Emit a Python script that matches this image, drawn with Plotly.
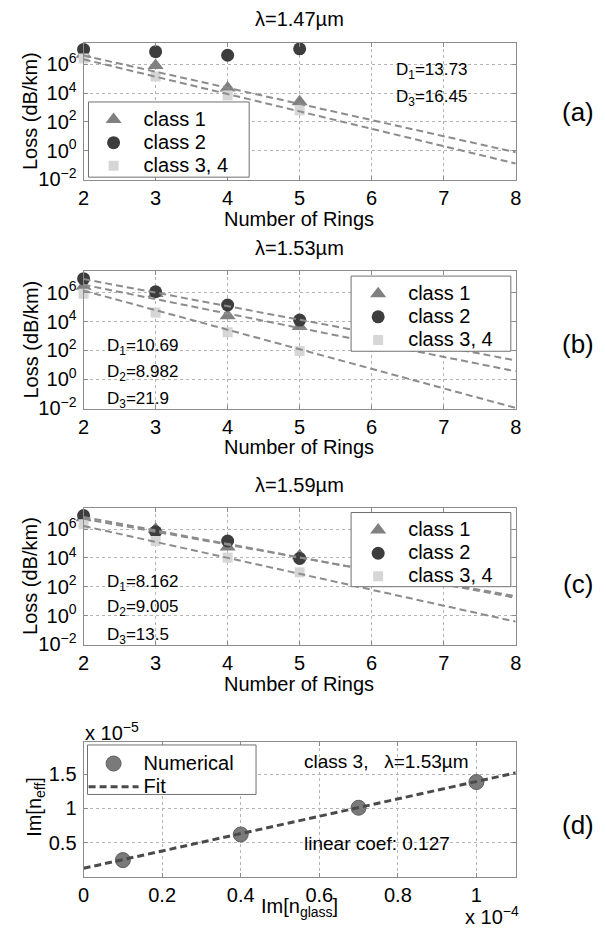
import plotly.graph_objects as go

# page body has an 8px margin: the figure is drawn from (8, 8) in the window
OFF = 8
WIN_W, WIN_H = 606, 937
W, H = WIN_W - OFF, WIN_H - OFF

# ---------------- data ----------------
rings = [2, 3, 4, 5]
fit_rings = [2, 8]

# panel (a)  lambda = 1.47 um
a_class1 = [5.0e6, 8.0e5, 2.2e4, 2.5e3]
a_class2 = [1.07e7, 7.4e6, 4.2e6, 1.17e7]
a_class3 = [2.5e6, 1.4e5, 6.8e3, 6.3e2]
a_fit1 = [4.0e6, 0.76]
a_fit3 = [2.2e6, 0.126]

# panel (b)  lambda = 1.53 um
b_class1 = [2.8e6, 8.9e5, 2.5e4, 4.6e3]
b_class2 = [9.5e6, 1.17e6, 1.4e5, 1.26e4]
b_class3 = [8.5e5, 4.2e4, 1.8e3, 89]
b_fit1 = [3.6e6, 3.5]
b_fit2 = [8.9e6, 20]
b_fit3 = [1.4e6, 0.01]

# panel (c)  lambda = 1.59 um
c_class1 = [6.2e6, 1.0e6, 5.8e4, 1.4e4]
c_class2 = [8.9e6, 6.6e5, 1.5e5, 9.3e3]
c_class3 = [2.2e6, 1.5e5, 1.05e4, 1.0e3]
c_fit1 = [5.2e6, 22]
c_fit2 = [7.1e6, 17]
c_fit3 = [1.66e6, 0.38]

# panel (d)  (x in units of 1e-4, y in units of 1e-5)
im_glass = [0.1, 0.4, 0.7, 1.0]
im_neff = [0.245, 0.62, 1.01, 1.385]
fit_glass = [0.0, 1.1]
fit_neff = [0.125, 1.52]

class_names = ["class 1", "class 2", "class 3, 4"]
ring_ticks = [2, 3, 4, 5, 6, 7, 8]
loss_tickvals = [1e-2, 1e0, 1e2, 1e4, 1e6]
loss_ticktext = ["10<sup>\u22122</sup>", "10<sup>0</sup>", "10<sup>2</sup>",
                 "10<sup>4</sup>", "10<sup>6</sup>"]
glass_ticks = [0, 0.2, 0.4, 0.6, 0.8, 1.0]
glass_ticktext = ["0", "0.2", "0.4", "0.6", "0.8", "1"]
neff_ticks = [0.5, 1.0, 1.5]
neff_ticktext = ["0.5", "1", "1.5"]

# ---------------- style ----------------
FONT = "Liberation Sans, Arial, Helvetica, sans-serif"
C1, C2, C3 = "#808080", "#3d3d3d", "#d6d6d6"
FITC = "#8c8c8c"
BOXC = "#8c8c8c"
GRIDC = "#b4b4b4"
LBL = 20


def px(x):
    return (x - OFF) / W


def py(y):
    return 1 - (y - OFF) / H


def big(s):
    return f'<span style="font-size:20px">{s}</span>'


XL, XR = 79, 520
panels = {  # top, bottom pixel rows of each axes box (window pixels)
    "a": (43, 182),
    "b": (274, 413),
    "c": (513, 652),
    "d": (750, 886),
}

fig = go.Figure()


def add_loss_panel(idx, c1, c2, c3, fits, legend_name):
    xa = "x" if idx == 1 else f"x{idx}"
    ya = "y" if idx == 1 else f"y{idx}"
    fig.add_trace(go.Scatter(x=rings, y=c1, mode="markers", name=big(class_names[0]),
                             marker=dict(symbol="triangle-up", size=14, color=C1),
                             xaxis=xa, yaxis=ya, legend=legend_name, cliponaxis=False))
    fig.add_trace(go.Scatter(x=rings, y=c2, mode="markers", name=big(class_names[1]),
                             marker=dict(symbol="circle", size=13, color=C2),
                             xaxis=xa, yaxis=ya, legend=legend_name, cliponaxis=False))
    fig.add_trace(go.Scatter(x=rings, y=c3, mode="markers", name=big(class_names[2]),
                             marker=dict(symbol="square", size=10, color=C3),
                             xaxis=xa, yaxis=ya, legend=legend_name, cliponaxis=False))
    for f in fits:
        fig.add_trace(go.Scatter(x=fit_rings, y=f, mode="lines", showlegend=False,
                                 line=dict(color=FITC, width=2, dash="7px,4px"),
                                 xaxis=xa, yaxis=ya, hoverinfo="skip"))


add_loss_panel(1, a_class1, a_class2, a_class3, [a_fit1, a_fit3], "legend")
add_loss_panel(2, b_class1, b_class2, b_class3, [b_fit2, b_fit1, b_fit3], "legend2")
add_loss_panel(3, c_class1, c_class2, c_class3, [c_fit1, c_fit2, c_fit3], "legend3")

fig.add_trace(go.Scatter(x=im_glass, y=im_neff, mode="markers", name=big("Numerical"),
                         marker=dict(symbol="circle", size=15, color="#7a7a7a",
                                     line=dict(color="#5e5e5e", width=1)),
                         xaxis="x4", yaxis="y4", legend="legend4", cliponaxis=False))
fig.add_trace(go.Scatter(x=fit_glass, y=fit_neff, mode="lines", name=big("Fit"),
                         line=dict(color="#4a4a4a", width=3, dash="7px,4px"),
                         xaxis="x4", yaxis="y4", legend="legend4"))

common = dict(showline=True, mirror="ticks", linecolor=BOXC, linewidth=1,
              ticks="inside", ticklen=4, tickcolor=BOXC,
              showgrid=True, gridcolor=GRIDC, griddash="dot", gridwidth=1,
              zeroline=False, tickfont=dict(family=FONT, size=LBL, color="black"))

layout_axes = {}
for i, key in enumerate(["a", "b", "c", "d"], start=1):
    top, bot = panels[key]
    xname = "xaxis" if i == 1 else f"xaxis{i}"
    yname = "yaxis" if i == 1 else f"yaxis{i}"
    xanchor = "y" if i == 1 else f"y{i}"
    yanchor = "x" if i == 1 else f"x{i}"
    if key != "d":
        layout_axes[xname] = dict(common, domain=[px(XL), px(XR)], anchor=xanchor,
                                  range=[2, 8], tickvals=ring_ticks, ticklabelstandoff=0)
        layout_axes[yname] = dict(common, domain=[py(bot), py(top)], anchor=yanchor,
                                  type="log", range=[-2.05, 7.5],
                                  tickvals=loss_tickvals, ticktext=loss_ticktext,
                                  ticklabelstandoff=2)
    else:
        layout_axes[xname] = dict(common, domain=[px(XL), px(XR)], anchor=xanchor,
                                  range=[0, 1.1], tickvals=glass_ticks,
                                  ticktext=glass_ticktext, ticklabelstandoff=0)
        layout_axes[yname] = dict(common, domain=[py(bot), py(top)], anchor=yanchor,
                                  range=[0.005, 1.97], tickvals=neff_ticks,
                                  ticktext=neff_ticktext, ticklabelstandoff=2)

fig.update_layout(width=W, height=H, margin=dict(l=0, r=0, t=0, b=0),
                  paper_bgcolor="white", plot_bgcolor="white",
                  font=dict(family=FONT, size=LBL, color="black"),
                  showlegend=True, **layout_axes)

# legend boxes (opaque, MATLAB style)
legend_boxes = [(84, 248, 103, 179), (352, 515, 279, 355),
                (352, 515, 518, 593), (83, 255, 753, 803)]
shapes = []
for x0, x1, y0, y1 in legend_boxes:
    shapes.append(dict(type="rect", xref="paper", yref="paper", layer="above",
                       x0=px(x0), x1=px(x1), y0=py(y1), y1=py(y0),
                       fillcolor="white", line=dict(color="#707070", width=1)))
fig.update_layout(shapes=shapes)

leg_common = dict(bgcolor="rgba(0,0,0,0)", borderwidth=0, xanchor="left", yanchor="top",
                  font=dict(family=FONT, size=15.5, color="black"), itemwidth=50,
                  tracegroupgap=0)
fig.update_layout(
    legend=dict(leg_common, x=px(79), y=py(104)),
    legend2=dict(leg_common, x=px(349), y=py(280)),
    legend3=dict(leg_common, x=px(349), y=py(519)),
    legend4=dict(leg_common, x=px(79), y=py(755)),
)

ann = []


def text(x, y, s, size=LBL, xanchor="center", angle=0):
    ann.append(dict(x=px(x), y=py(y), xref="paper", yref="paper", text=s,
                    showarrow=False, xanchor=xanchor, yanchor="middle",
                    textangle=angle, font=dict(family=FONT, size=size, color="black")))


# titles
text(299, 19, "\u03bb=1.47\u00b5m")
text(299, 251, "\u03bb=1.53\u00b5m")
text(299, 490, "\u03bb=1.59\u00b5m")
# x titles
text(299, 221, "Number of Rings")
text(299, 452, "Number of Rings")
text(299, 691, "Number of Rings")
text(299, 917, "Im[n<sub>glass</sub>]")
# y titles
for key in ["a", "b", "c"]:
    top, bot = panels[key]
    text(25, (top + bot) / 2, "Loss (dB/km)", angle=-90)
text(30, 816, "Im[n<sub>eff</sub>]", angle=-90)
# exponents of panel (d)
text(78, 739, "x 10<sup>\u22125</sup>", xanchor="left")
text(466, 925, "x 10<sup>\u22124</sup>", xanchor="left")
# panel letters
text(584, 113, "(a)", size=26)
text(584, 348, "(b)", size=26)
text(584, 590, "(c)", size=26)
text(584, 834, "(d)", size=26)
# D annotations
DS = 17
text(396, 72, "D<sub>1</sub>=13.73", size=DS, xanchor="left")
text(396, 99, "D<sub>3</sub>=16.45", size=DS, xanchor="left")
text(101, 351, "D<sub>1</sub>=10.69", size=DS, xanchor="left")
text(101, 377, "D<sub>2</sub>=8.982", size=DS, xanchor="left")
text(101, 404, "D<sub>3</sub>=21.9", size=DS, xanchor="left")
text(101, 589, "D<sub>1</sub>=8.162", size=DS, xanchor="left")
text(101, 615, "D<sub>2</sub>=9.005", size=DS, xanchor="left")
text(101, 643, "D<sub>3</sub>=13.5", size=DS, xanchor="left")
text(302, 770, "class 3,   \u03bb=1.53\u00b5m", size=19, xanchor="left")
text(302, 853, "linear coef: 0.127", size=19, xanchor="left")

fig.update_layout(annotations=ann)
fig.write_html("out.html")
